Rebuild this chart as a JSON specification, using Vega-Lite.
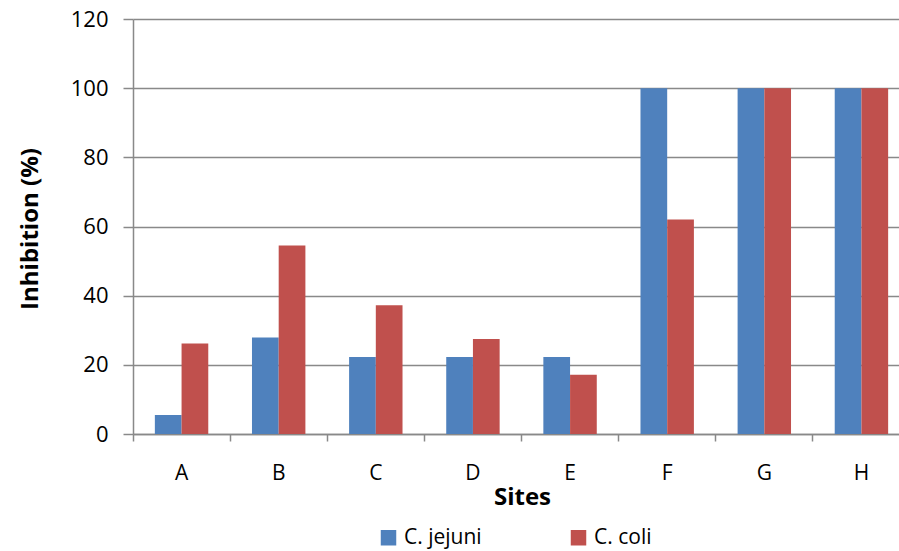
{
  "$schema": "https://vega.github.io/schema/vega-lite/v6.json",
  "autosize": {"type": "none"},
  "padding": {"left": 133, "top": 19, "right": 0, "bottom": 117},
  "width": 766,
  "height": 415,
  "background": "white",
  "config": {
    "view": {"stroke": null},
    "font": "Open Sans",
    "axis": {
      "labelFont": "Open Sans",
      "titleFont": "Open Sans",
      "labelColor": "black",
      "titleColor": "black",
      "domainColor": "#898989",
      "tickColor": "#898989",
      "gridColor": "#898989",
      "domainWidth": 1.5,
      "tickWidth": 1.5,
      "gridWidth": 1.5
    }
  },
  "data": {
    "values": [
      {"site": "A", "species": "C. jejuni", "value": 5.5},
      {"site": "A", "species": "C. coli", "value": 26.2},
      {"site": "B", "species": "C. jejuni", "value": 27.9},
      {"site": "B", "species": "C. coli", "value": 54.5},
      {"site": "C", "species": "C. jejuni", "value": 22.3},
      {"site": "C", "species": "C. coli", "value": 37.2},
      {"site": "D", "species": "C. jejuni", "value": 22.3},
      {"site": "D", "species": "C. coli", "value": 27.5},
      {"site": "E", "species": "C. jejuni", "value": 22.3},
      {"site": "E", "species": "C. coli", "value": 17.1},
      {"site": "F", "species": "C. jejuni", "value": 100},
      {"site": "F", "species": "C. coli", "value": 62.0},
      {"site": "G", "species": "C. jejuni", "value": 100},
      {"site": "G", "species": "C. coli", "value": 100},
      {"site": "H", "species": "C. jejuni", "value": 100},
      {"site": "H", "species": "C. coli", "value": 100}
    ]
  },
  "mark": {"type": "bar"},
  "encoding": {
    "x": {
      "field": "site",
      "type": "nominal",
      "scale": {"range": [0, 777], "paddingInner": 0.45, "paddingOuter": 0.225},
      "axis": {
        "title": "Sites",
        "titleFontSize": 24,
        "titleFontWeight": "bold",
        "titleX": 389,
        "titleY": 70,
        "titleBaseline": "alphabetic",
        "labelAngle": 0,
        "labelFontSize": 21,
        "bandPosition": -0.409,
        "tickSize": 7,
        "labelPadding": 21,
        "grid": false
      }
    },
    "xOffset": {"field": "species", "type": "nominal", "sort": ["C. jejuni", "C. coli"]},
    "y": {
      "field": "value",
      "type": "quantitative",
      "scale": {"domain": [0, 120], "nice": false},
      "axis": {
        "title": "Inhibition (%)",
        "titleFontSize": 24,
        "titleFontWeight": "bold",
        "titleX": -96,
        "titleY": 209.5,
        "titleBaseline": "alphabetic",
        "values": [0, 20, 40, 60, 80, 100, 120],
        "labelFontSize": 22,
        "tickSize": 10,
        "labelPadding": 15,
        "grid": true
      }
    },
    "color": {
      "field": "species",
      "type": "nominal",
      "scale": {"domain": ["C. jejuni", "C. coli"], "range": ["#4F81BD", "#C0504D"]},
      "legend": {
        "title": null,
        "orient": "none",
        "direction": "horizontal",
        "legendX": 245,
        "legendY": 508,
        "padding": 0,
        "symbolType": "square",
        "symbolSize": 240,
        "symbolStrokeWidth": 0,
        "symbolOpacity": 1,
        "labelFont": "Open Sans",
        "labelFontSize": 21,
        "labelColor": "black",
        "labelOffset": 5,
        "columnPadding": 86
      }
    }
  }
}
